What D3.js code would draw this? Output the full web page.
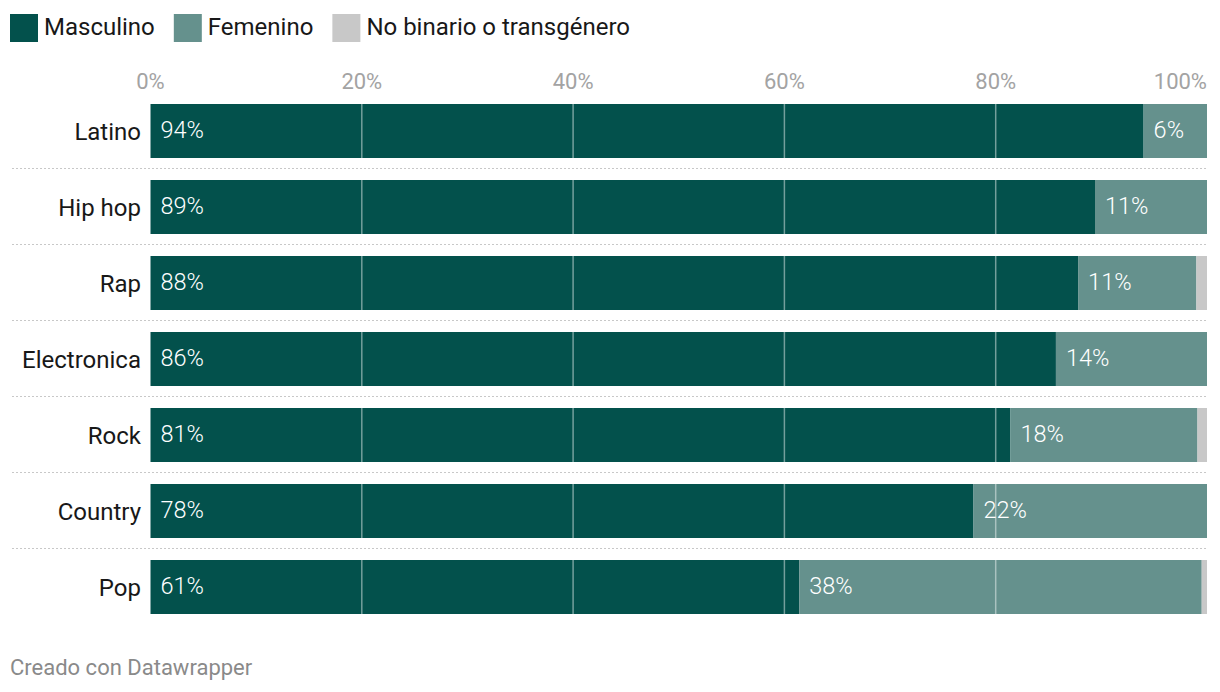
<!DOCTYPE html>
<html><head><meta charset="utf-8">
<script src="https://cdn.jsdelivr.net/npm/d3@7"></script>
<style>
body{margin:0;background:#fff;font-family:Roboto,"Noto Sans",sans-serif;}
</style></head><body>
<svg id="chart" width="1220" height="692"></svg>
<script>
const categories = ["Latino","Hip hop","Rap","Electronica","Rock","Country","Pop"];
const masculino = [94.0, 89.4, 87.8, 85.7, 81.4, 77.9, 61.4];
const femenino  = [6.0, 10.6, 11.2, 14.3, 17.7, 22.1, 38.1];
const noBinario = [0, 0, 1.0, 0, 0.9, 0, 0.5];
const seriesNames = ["Masculino","Femenino","No binario o transgénero"];
const seriesColors = ["#03514c","#65918d","#c8c8c8"];
const tickValues = [0,20,40,60,80,100];

const svg = d3.select("#chart");
const x = d3.scaleLinear().domain([0,100]).range([150.5,1207]);
const step = 76, bh = 54;
const y = d3.scaleBand().domain(categories).range([104, 104+step*categories.length]);
const yTop = c => y(c);

// legend
let lx = 10;
const leg = svg.append("g");
seriesNames.forEach((n,i)=>{
  leg.append("rect").attr("x",lx).attr("y",14).attr("width",28).attr("height",28).attr("fill",seriesColors[i]);
  const t = leg.append("text").attr("x",lx+34).attr("y",35).attr("font-size",24).attr("fill","#181818").text(n);
  lx += 34 + t.node().getComputedTextLength() + 19;
});

// tick labels
svg.append("g").selectAll("text").data(tickValues).join("text")
  .attr("x",d=>x(d)).attr("y",88.5)
  .attr("text-anchor",d=>d===100?"end":"middle")
  .attr("font-size",22).attr("fill","#a3a3a3")
  .text(d=>d+"%");

// separators
svg.append("g").selectAll("line").data(categories.slice(1)).join("line")
  .attr("x1",12).attr("x2",1207)
  .attr("y1",d=>yTop(d)-11.5).attr("y2",d=>yTop(d)-11.5)
  .attr("stroke","#c8c8c8").attr("stroke-width",1.2).attr("stroke-dasharray","2,2");

// bars
const rows = categories.map((c,i)=>({c, vals:[masculino[i],femenino[i],noBinario[i]]}));
const g = svg.append("g");
rows.forEach(r=>{
  let acc = 0;
  r.vals.forEach((v,si)=>{
    if(v>0){
      g.append("rect").attr("x",x(acc)).attr("y",yTop(r.c)).attr("width",x(acc+v)-x(acc)).attr("height",bh).attr("fill",seriesColors[si]);
      if(si<2){
        g.append("text").attr("x",x(acc)+10).attr("y",yTop(r.c)+33.5).attr("font-size",23.5).attr("font-weight",300).attr("fill","#fff").text(Math.round(v)+"%");
      }
    }
    acc += v;
  });
  svg.append("text").attr("x",141).attr("y",yTop(r.c)+35.5).attr("text-anchor","end").attr("font-size",24).attr("fill","#181818").text(r.c);
});

// grid lines over bars
rows.forEach(r=>{
  svg.append("g").selectAll("line").data([20,40,60,80]).join("line")
    .attr("x1",d=>x(d)).attr("x2",d=>x(d))
    .attr("y1",yTop(r.c)).attr("y2",yTop(r.c)+bh)
    .attr("stroke","rgba(255,255,255,0.45)").attr("stroke-width",1.5);
});

// footer
svg.append("text").attr("x",10).attr("y",675).attr("font-size",22).attr("fill","#8a8a8a").text("Creado con Datawrapper");
</script>
</body></html>
